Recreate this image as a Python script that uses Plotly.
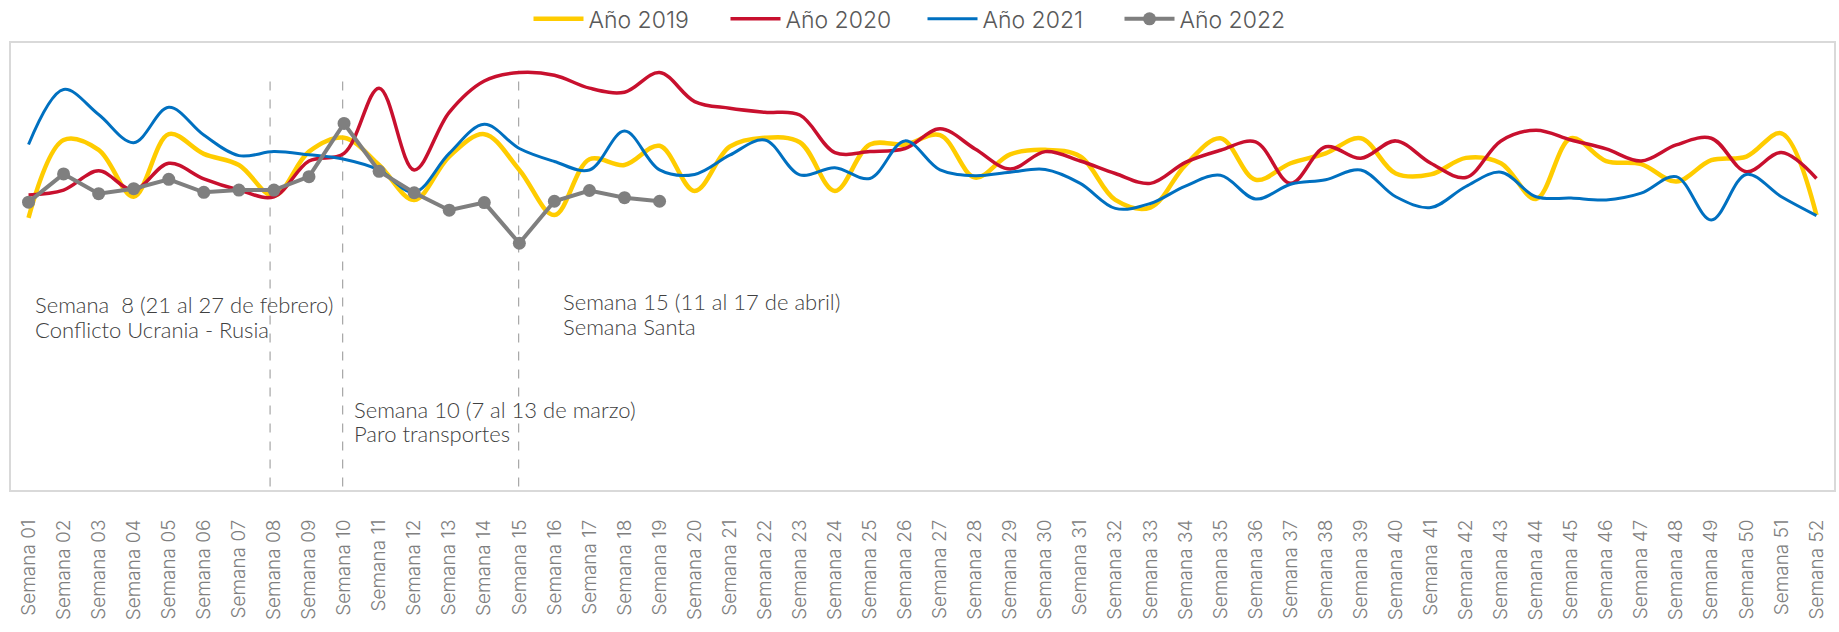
import plotly.graph_objects as go

weeks = ["Semana 01", "Semana 02", "Semana 03", "Semana 04", "Semana 05", "Semana 06",
         "Semana 07", "Semana 08", "Semana 09", "Semana 10", "Semana 11", "Semana 12",
         "Semana 13", "Semana 14", "Semana 15", "Semana 16", "Semana 17", "Semana 18",
         "Semana 19", "Semana 20", "Semana 21", "Semana 22", "Semana 23", "Semana 24",
         "Semana 25", "Semana 26", "Semana 27", "Semana 28", "Semana 29", "Semana 30",
         "Semana 31", "Semana 32", "Semana 33", "Semana 34", "Semana 35", "Semana 36",
         "Semana 37", "Semana 38", "Semana 39", "Semana 40", "Semana 41", "Semana 42",
         "Semana 43", "Semana 44", "Semana 45", "Semana 46", "Semana 47", "Semana 48",
         "Semana 49", "Semana 50", "Semana 51", "Semana 52"]

y2019 = [60.9, 78.3, 76.1, 65.6, 79.6, 75.2, 72.7, 65.8, 75.7, 78.8,
         72.7, 64.9, 74.6, 79.6, 71.6, 61.5, 74.0, 72.7, 77.0, 66.9,
         76.8, 78.8, 77.8, 66.9, 77.3, 77.3, 79.4, 69.9, 75.1, 76.1,
         74.6, 64.9, 63.2, 72.7, 78.7, 69.4, 73.1, 75.3, 78.7, 70.8,
         70.6, 74.3, 73.1, 65.1, 78.7, 73.6, 72.9, 69.0, 73.8, 74.6,
         79.8, 61.5]

y2020 = [66.0, 67.1, 71.4, 67.1, 73.1, 69.6, 67.1, 65.6, 73.6, 75.3,
         89.9, 71.6, 84.5, 91.5, 93.4, 92.8, 89.9, 89.0, 93.4, 86.9,
         85.4, 84.5, 83.9, 75.5, 75.7, 76.4, 80.8, 76.3, 71.8, 75.7,
         73.6, 70.8, 68.6, 73.3, 76.0, 77.9, 68.6, 76.8, 74.2, 78.1,
         73.1, 69.9, 78.1, 80.5, 78.3, 76.3, 73.6, 77.2, 78.7, 71.2,
         75.5, 69.7]

y2021 = [77.3, 89.6, 84.0, 77.7, 85.6, 79.4, 74.8, 75.7, 75.0, 74.0,
         71.6, 66.6, 75.3, 81.8, 76.4, 73.5, 71.6, 80.3, 71.6, 70.6,
         74.9, 78.3, 70.5, 72.1, 69.7, 78.1, 71.6, 70.3, 71.1, 71.7,
         68.6, 63.0, 64.1, 68.0, 70.4, 65.1, 68.4, 69.4, 71.6, 65.6,
         63.2, 67.9, 71.1, 65.6, 65.3, 64.9, 66.4, 70.1, 60.4, 70.6,
         65.6, 61.4]

y2022 = [64.4, 70.7, 66.3, 67.4, 69.5, 66.6, 67.1, 67.1, 70.1, 82.0,
         71.3, 66.5, 62.6, 64.3, 55.2, 64.6, 67.0, 65.4, 64.6]

series_names = ["Año 2019", "Año 2020", "Año 2021", "Año 2022"]

fig = go.Figure()

fig.add_trace(go.Scatter(x=weeks, y=y2019, name=series_names[0], mode="lines",
                         line=dict(color="#FFCC00", width=4.5, shape="spline", smoothing=1.0)))
fig.add_trace(go.Scatter(x=weeks, y=y2020, name=series_names[1], mode="lines",
                         line=dict(color="#C8102E", width=3.5, shape="spline", smoothing=1.0)))
fig.add_trace(go.Scatter(x=weeks, y=y2021, name=series_names[2], mode="lines",
                         line=dict(color="#0070C0", width=3, shape="spline", smoothing=1.0)))
fig.add_trace(go.Scatter(x=weeks[:len(y2022)], y=y2022, name=series_names[3], mode="lines+markers",
                         line=dict(color="#7F7F7F", width=4),
                         marker=dict(color="#7F7F7F", size=13)))

# dashed event markers (category index positions)
for xv, ytop in [(6.89, 93.3), (8.96, 93.3), (13.98, 93.8)]:
    fig.add_shape(type="line", xref="x", yref="y", x0=xv, x1=xv, y0=0.8, y1=ytop,
                  line=dict(color="#A6A6A6", width=1.2, dash="dash"), layer="below")

ann_font = dict(family="Lato", size=22, color="#404040", weight=300)
notes = [
    (0.12, 41.4, "Semana  8 (21 al 27 de febrero)"),
    (0.12, 36.0, "Conflicto Ucrania - Rusia"),
    (9.24, 18.1, "Semana 10 (7 al 13 de marzo)"),
    (9.24, 12.6, "Paro transportes"),
    (15.2, 42.1, "Semana 15 (11 al 17 de abril)"),
    (15.2, 36.5, "Semana Santa"),
]
for xv, yv, txt in notes:
    fig.add_annotation(x=xv, y=yv, xref="x", yref="y", text=txt, showarrow=False,
                       xanchor="left", yanchor="middle", align="left", font=ann_font)

fig.update_layout(
    width=1839, height=632,
    margin=dict(l=11, r=5, t=43, b=142, autoexpand=False),
    paper_bgcolor="white", plot_bgcolor="white",
    showlegend=True,
    legend=dict(orientation="h", x=0.5, xanchor="center", y=1.054, yanchor="middle",
                font=dict(family="Inter", size=23, color="#595959", weight=300),
                entrywidth=132, entrywidthmode="pixels", itemwidth=50),
    font=dict(family="Inter"),
)
fig.update_xaxes(type="category", range=[-0.5, 51.5], tickangle=-90, automargin=False,
                 tickfont=dict(family="Inter", size=19, color="#7F7F7F", weight=300),
                 ticklabelstandoff=20,
                 showgrid=False, showline=True, mirror=True, linecolor="#D9D9D9", linewidth=2,
                 ticks="", zeroline=False)
fig.update_yaxes(range=[0, 100], showticklabels=False, showgrid=False, zeroline=False,
                 automargin=False,
                 showline=True, mirror=True, linecolor="#D9D9D9", linewidth=2, ticks="")

# remove the browser's default 8px page margin so the 1839x632 figure fills the window
fig.write_html("out.html", config={"displayModeBar": False},
               post_script="document.body.style.margin='0px';")
